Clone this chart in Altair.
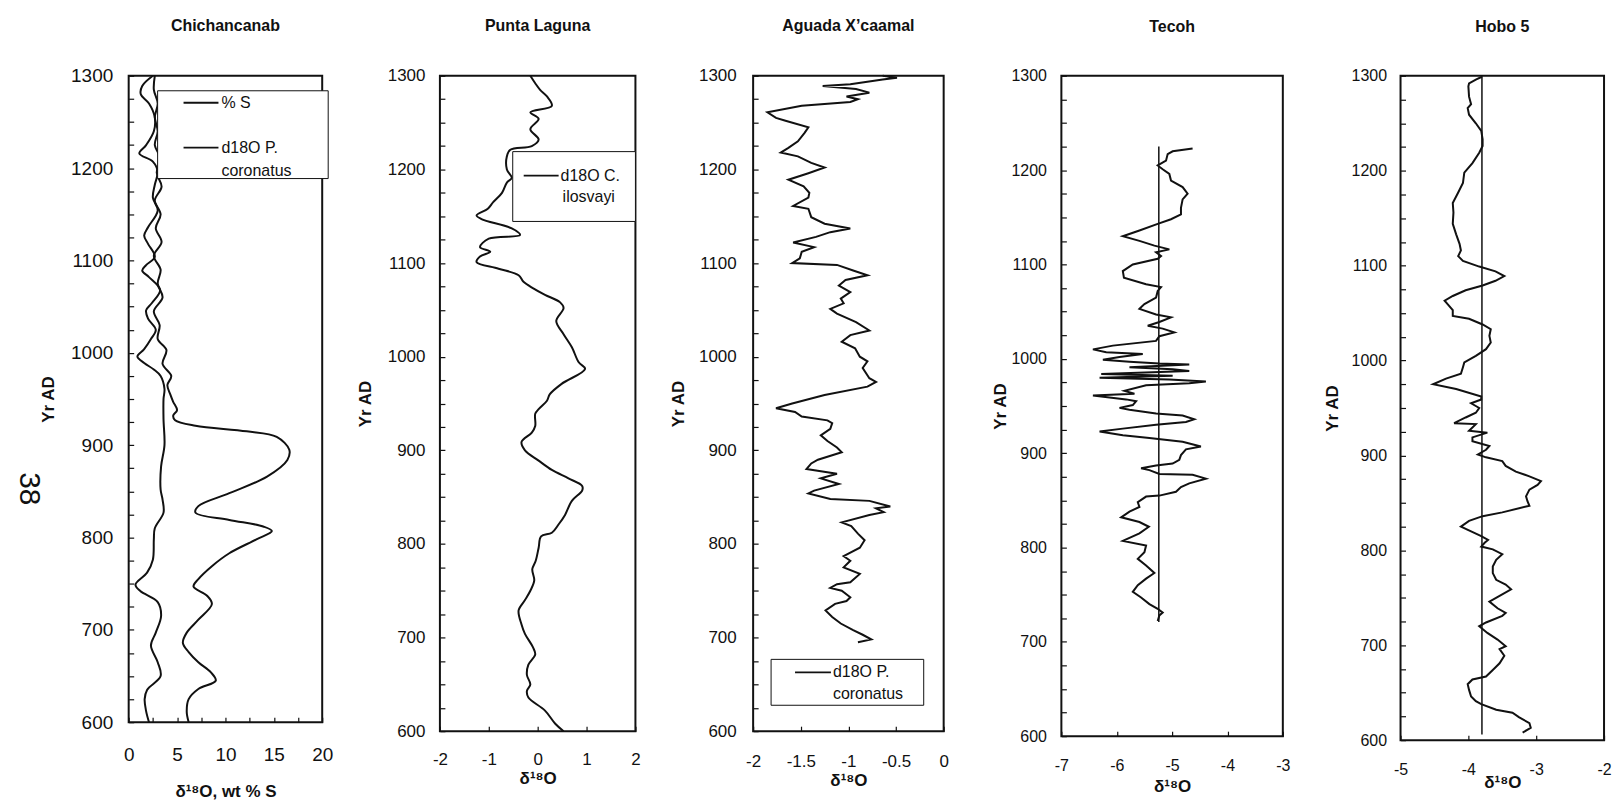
import altair as alt
import pandas as pd

FONT = "Liberation Sans"
INK = "#111111"

# ---------------- data ----------------
titles = ["Chichancanab", "Punta Laguna", "Aguada X\u2019caamal", "Tecoh", "Hobo 5"]
x_titles = ["\u03b4\u00b9\u2078O, wt % S", "\u03b4\u00b9\u2078O", "\u03b4\u00b9\u2078O", "\u03b4\u00b9\u2078O", "\u03b4\u00b9\u2078O"]
y_title = "Yr AD"
x_domains = [[0, 20], [-2, 2], [-2, 0], [-7, -3], [-5, -2]]
x_tick_values = [
    [0, 2.5, 5, 7.5, 10, 12.5, 15, 17.5, 20],
    [-2, -1, 0, 1, 2],
    [-2, -1.5, -1, -0.5, 0],
    [-7, -6, -5, -4, -3],
    [-5, -4, -3, -2],
]
year_ticks = list(range(600, 1301, 25))

# Chichancanab: d18O P. coronatus
chi_o_years = [600, 612, 625, 635, 650, 665, 683, 697, 715, 730, 742, 749, 762, 776, 798, 810, 827, 841,
               852, 877, 900, 928, 950, 961, 975, 982, 989, 996, 1004, 1015, 1025, 1037, 1046, 1054,
               1068, 1082, 1089, 1095, 1104, 1118, 1127, 1136, 1154, 1168, 1182, 1196, 1207, 1216,
               1225, 1240, 1255, 1270, 1280, 1289, 1300]
chi_o_vals = [2.1, 1.8, 1.65, 1.9, 3.3, 3.0, 2.3, 2.8, 3.35, 3.0, 1.2, 0.7, 1.9, 2.5, 2.6, 2.7, 3.6, 3.5,
              3.3, 3.35, 3.7, 3.6, 3.6, 3.7, 3.3, 2.6, 1.6, 0.9, 1.6, 2.3, 2.8, 2.0, 1.8, 2.4,
              3.25, 2.1, 1.4, 1.8, 2.7, 2.0, 1.6, 2.0, 3.0, 2.5, 2.7, 3.0, 2.5, 1.1,
              1.8, 2.6, 2.7, 2.1, 1.25, 1.4, 2.5]
# Chichancanab: % S
chi_s_years = [600, 611, 625, 636, 645, 654, 665, 676, 686, 697, 711, 728, 737, 747, 755, 769, 783, 798,
               807, 812, 819, 827, 834, 848, 866, 884, 895, 909, 915, 921, 927, 932, 938, 947, 955,
               965, 975, 988, 1003, 1015, 1030, 1045, 1060, 1075, 1090, 1105, 1120, 1135, 1150,
               1165, 1180, 1195, 1210, 1225, 1240, 1255, 1270, 1285, 1300]
chi_s_vals = [6.2, 6.0, 6.2, 7.2, 9.0, 8.5, 7.2, 6.2, 5.6, 6.0, 7.2, 8.6, 8.1, 6.7, 7.2, 8.6, 10.4, 13.2,
              14.8, 13.9, 10.4, 6.9, 7.2, 10.4, 14.3, 16.4, 16.6, 15.3, 12.2, 6.9, 4.8, 4.6, 5.0, 4.6, 4.3,
              4.0, 4.4, 3.5, 3.9, 3.0, 3.2, 2.6, 3.5, 3.0, 3.3, 2.6, 3.4, 2.8, 3.3,
              2.7, 3.4, 2.9, 3.3, 2.7, 3.0, 2.7, 3.0, 2.6, 2.7]

# Punta Laguna: d18O C. ilosvayi
pl_years = [600, 608, 622, 636, 643, 650, 660, 671, 682, 690, 704, 714, 729, 740, 750, 761, 773, 782,
            796, 808, 812, 821, 831, 846, 857, 862, 870, 879, 889, 900, 909, 919, 926, 939, 944, 953,
            960, 971, 987, 994, 1010, 1024, 1038, 1052, 1058, 1066, 1073, 1080, 1087, 1094, 1101,
            1107, 1112, 1117, 1126, 1130, 1137, 1147, 1151, 1158, 1165, 1175, 1186, 1191, 1200,
            1214, 1221, 1225, 1232, 1243, 1254, 1261, 1268, 1278, 1285, 1292, 1300]
pl_vals = [0.53, 0.36, 0.15, -0.19, -0.22, -0.15, -0.22, -0.19, -0.05, -0.10, -0.26, -0.33, -0.39, -0.26,
           -0.15, -0.07, -0.11, -0.04, 0.02, 0.07, 0.29, 0.43, 0.56, 0.70, 0.91, 0.91, 0.63, 0.29, 0.02,
           -0.26, -0.33, -0.12, -0.05, -0.05, 0.02, 0.19, 0.25, 0.49, 0.97, 0.84, 0.70, 0.53, 0.38,
           0.53, 0.46, 0.15, -0.09, -0.29, -0.39, -0.80, -1.25, -1.18, -0.97, -1.18, -1.0, -0.36,
           -0.53, -1.15, -1.25, -1.02, -0.91, -0.73, -0.63, -0.53, -0.63, -0.63, -0.56, -0.12, 0.02,
           -0.15, 0.02, -0.15, 0.29, 0.19, 0.05, -0.05, -0.15]

# Aguada X'caamal: d18O P. coronatus
ag_years = [695, 698, 703, 708, 715, 722, 729, 736, 739, 743, 750, 753, 757, 759, 768, 775, 782, 787,
            796, 804, 811, 819, 823, 831, 834, 838, 840, 846, 848, 854, 857, 864, 870, 875, 880, 886,
            890, 898, 903, 910, 916, 923, 929, 932, 936, 941, 945, 950, 959, 968, 973, 977, 988, 995,
            1000, 1009, 1016, 1023, 1028, 1037, 1046, 1051, 1057, 1062, 1069, 1076, 1082, 1087,
            1092, 1098, 1100, 1105, 1112, 1117, 1122, 1128, 1133, 1137, 1142, 1149, 1158, 1161,
            1170, 1175, 1182, 1189, 1196, 1202, 1207, 1214, 1218, 1223, 1230, 1239, 1245, 1252,
            1255, 1261, 1268, 1272, 1275, 1278, 1282, 1286, 1289, 1291, 1296, 1298, 1300]
ag_vals = [-0.90, -0.76, -0.85, -0.95, -1.08, -1.17, -1.24, -1.14, -1.02, -0.98, -1.07, -1.19, -1.12,
           -0.98, -0.88, -1.05, -0.98, -1.05, -0.88, -0.83, -0.90, -0.97, -1.07, -0.78, -0.63, -0.71,
           -0.56, -0.78, -1.19, -1.42, -1.36, -1.10, -1.29, -1.12, -1.44, -1.39, -1.32, -1.07, -1.12,
           -1.22, -1.29, -1.19, -1.17, -1.22, -1.49, -1.56, -1.76, -1.59, -1.25, -0.80, -0.71, -0.78,
           -0.85, -0.80, -0.88, -0.93, -1.07, -0.98, -0.78, -0.92, -1.12, -1.19, -1.05, -1.08, -0.98,
           -1.10, -1.03, -0.80, -0.95, -1.12, -1.59, -1.51, -1.49, -1.36, -1.58, -1.34, -1.19, -0.98,
           -1.25, -1.39, -1.42, -1.58, -1.42, -1.41, -1.47, -1.63, -1.42, -1.25, -1.39, -1.53, -1.71,
           -1.63, -1.53, -1.46, -1.42, -1.66, -1.76, -1.85, -1.49, -0.98, -0.90, -1.02, -0.78, -0.92,
           -1.27, -0.98, -0.64, -0.49, -0.64]

# Tecoh
te_years = [722, 728, 731, 735, 740, 747, 753, 760, 767, 773, 781, 788, 795, 802, 807, 815, 822, 827,
            832, 838, 843, 848, 854, 855, 859, 864, 868, 873, 877, 878, 882, 884, 887, 889, 893, 898,
            904, 907, 912, 916, 919, 923, 926, 930, 933, 936, 940, 942, 946, 948, 951, 955, 957, 961,
            963, 966, 972, 974, 976, 978, 980, 982, 984, 987, 989, 991, 994, 995, 997, 999, 1002,
            1005, 1007, 1010, 1014, 1019, 1024, 1028, 1032, 1035, 1039, 1044, 1047, 1053, 1058,
            1065, 1072, 1076, 1079, 1086, 1093, 1100, 1106, 1109, 1113, 1116, 1120, 1125, 1130,
            1136, 1143, 1148, 1153, 1160, 1169, 1175, 1182, 1189, 1196, 1201, 1205, 1210, 1217,
            1220, 1223]
te_vals = [-5.26, -5.23, -5.17, -5.26, -5.41, -5.56, -5.71, -5.62, -5.47, -5.32, -5.47, -5.62, -5.50,
           -5.47, -5.89, -5.59, -5.42, -5.59, -5.92, -5.77, -5.59, -5.62, -5.47, -5.23, -4.93, -4.84,
           -4.69, -4.39, -4.63, -5.23, -5.41, -5.56, -5.29, -4.99, -4.87, -4.84, -4.75, -4.48, -4.81,
           -5.41, -5.89, -6.31, -5.89, -5.29, -4.75, -4.60, -4.81, -5.29, -5.77, -5.95, -5.71, -5.65,
           -5.83, -6.43, -5.68, -5.86, -5.47, -4.69, -4.39, -5.05, -6.31, -4.99, -6.28, -4.69, -4.99,
           -5.77, -4.69, -5.23, -5.77, -6.25, -5.95, -5.53, -6.19, -6.43, -6.07, -5.29, -5.23, -4.96,
           -5.17, -5.44, -5.23, -5.02, -5.29, -5.59, -5.50, -5.29, -5.26, -5.20, -5.47, -5.87, -5.89,
           -5.71, -5.26, -5.20, -5.29, -5.05, -5.32, -5.59, -5.89, -5.59, -5.26, -5.02, -4.84, -4.84,
           -4.81, -4.72, -4.81, -5.02, -5.05, -5.17, -5.26, -5.11, -5.08, -4.99, -4.63]
te_mean_years = [721, 1225]
te_mean_vals = [-5.24, -5.24]

# Hobo 5
hb_years = [608, 613, 618, 624, 629, 632, 638, 641, 646, 653, 659, 664, 667, 674, 681, 689, 696, 699,
            706, 713, 720, 724, 731, 734, 739, 746, 752, 759, 764, 769, 776, 783, 790, 796, 801, 804,
            808, 811, 815, 820, 825, 831, 836, 840, 847, 852, 857, 864, 869, 873, 878, 883, 889, 894,
            898, 901, 906, 910, 915, 919, 924, 926, 933, 934, 940, 945, 950, 955, 959, 962, 970, 975,
            981, 986, 993, 998, 1005, 1012, 1019, 1026, 1033, 1038, 1044, 1047, 1053, 1059, 1063,
            1068, 1074, 1079, 1084, 1089, 1094, 1099, 1105, 1110, 1116, 1123, 1133, 1144, 1156,
            1166, 1177, 1187, 1198, 1208, 1219, 1226, 1233, 1242, 1250, 1259, 1266, 1270, 1278,
            1289, 1292, 1296, 1299]
hb_vals = [-3.20, -3.08, -3.10, -3.25, -3.35, -3.59, -3.81, -3.89, -3.96, -3.99, -4.01, -3.94, -3.74,
           -3.64, -3.54, -3.47, -3.54, -3.45, -3.57, -3.72, -3.84, -3.74, -3.50, -3.45, -3.57, -3.69,
           -3.54, -3.37, -3.45, -3.59, -3.64, -3.64, -3.59, -3.50, -3.64, -3.81, -3.76, -3.71, -3.81,
           -3.96, -4.11, -3.99, -3.79, -3.50, -3.10, -3.13, -3.15, -3.10, -2.98, -2.93, -3.10, -3.30,
           -3.45, -3.50, -3.74, -3.86, -3.74, -3.69, -3.94, -3.94, -3.72, -3.99, -3.89, -4.21, -4.04,
           -3.89, -3.84, -3.96, -3.81, -3.81, -4.18, -4.52, -4.33, -4.11, -4.08, -4.06, -3.89, -3.74,
           -3.67, -3.69, -3.67, -3.79, -3.99, -4.23, -4.23, -4.30, -4.35, -4.23, -4.04, -3.79, -3.60,
           -3.47, -3.60, -3.84, -4.08, -4.15, -4.11, -4.13, -4.18, -4.23, -4.22, -4.23, -4.15, -4.08,
           -4.06, -3.94, -3.84, -3.79, -3.79, -3.81, -3.89, -3.99, -4.01, -3.96, -3.99, -4.00, -3.99,
           -3.89, -3.80]
hb_mean_years = [606, 1300]
hb_mean_vals = [-3.80, -3.80]

# ---------------- layout (style only) ----------------
widths = [194, 196, 191, 222, 204]
heights = [648, 657, 657, 662, 666]
label_sizes = [19, 17, 17, 16, 16]
y_label_pad = [16, 15, 17, 15, 14]
y_title_pad = [13, 13, 11, 1, 10]
x_label_pad = [23, 20, 22, 21, 21]
x_title_pad = [19, 3, 3, 5, -3]
ONE = pd.DataFrame({"k": [0]})


def frame(years, vals):
    return pd.DataFrame({"year": years, "v": vals})


def panel(i, series, extras):
    xs = alt.Scale(domain=x_domains[i], nice=False, zero=False)
    ys = alt.Scale(domain=[600, 1300], nice=False, zero=False)
    if i == 0:
        xexpr = "datum.value % 5 == 0 ? '' + datum.value : ''"
    else:
        xexpr = "'' + datum.value"
    xa = alt.Axis(values=x_tick_values[i], labelExpr=xexpr, offset=-5, tickSize=5, tickWidth=1.2,
                  tickColor=INK, domain=False, grid=False, labelFont=FONT,
                  labelFontSize=label_sizes[i], labelColor=INK, labelPadding=x_label_pad[i],
                  labelFlush=False, labelOverlap=False,
                  title=x_titles[i], titleFont=FONT, titleFontSize=17, titleFontWeight="bold",
                  titleColor=INK, titlePadding=x_title_pad[i])
    ya = alt.Axis(values=year_ticks, labelExpr="datum.value % 100 == 0 ? '' + datum.value : ''",
                  offset=-5, tickSize=5, tickWidth=1.2, tickColor=INK, domain=False, grid=False,
                  labelFont=FONT, labelFontSize=label_sizes[i], labelColor=INK,
                  labelPadding=y_label_pad[i], labelFlush=False, labelOverlap=False,
                  title=y_title, titleFont=FONT, titleFontSize=17, titleFontWeight="bold",
                  titleColor=INK, titlePadding=y_title_pad[i])
    layers = []
    for df, interp, sw in series:
        layers.append(
            alt.Chart(df).mark_line(color=INK, strokeWidth=sw, interpolate=interp).encode(
                x=alt.X("v:Q", scale=xs, axis=xa),
                y=alt.Y("year:Q", scale=ys, axis=ya),
                order=alt.Order("year:Q"),
            )
        )
    layers.extend(extras)
    return alt.layer(*layers).properties(
        width=widths[i], height=heights[i],
        title=alt.TitleParams(titles[i], font=FONT, fontSize=16, fontWeight="bold", color=INK,
                              anchor="middle", frame="group", offset=33),
    )


def box(x1, x2, y1, y2):
    return alt.Chart(ONE).mark_rect(fill="white", stroke=INK, strokeWidth=1).encode(
        x=alt.value(x1), x2=alt.value(x2), y=alt.value(y1), y2=alt.value(y2))


def sample(x1, x2, y):
    return alt.Chart(ONE).mark_rule(color=INK, strokeWidth=1.8).encode(
        x=alt.value(x1), x2=alt.value(x2), y=alt.value(y))


def label(x, y, text, size=16):
    return alt.Chart(ONE).mark_text(align="left", baseline="middle", font=FONT, fontSize=size,
                                    color=INK).encode(x=alt.value(x), y=alt.value(y),
                                                      text=alt.value(text))


page_no = alt.Chart(ONE).mark_text(align="center", baseline="middle", font=FONT, fontSize=30,
                                   angle=90, color=INK).encode(
    x=alt.value(-100), y=alt.value(414), text=alt.value("38"))

LW = 2.0
p1 = panel(0, [(frame(chi_o_years, chi_o_vals), "catmull-rom", LW),
               (frame(chi_s_years, chi_s_vals), "catmull-rom", LW)],
           [box(29, 200, 15, 103), sample(55, 90, 27), label(93, 27, "% S"),
            sample(55, 90, 72), label(93, 72, "d18O P."), label(93, 95, "coronatus"), page_no])
p2 = panel(1, [(frame(pl_years, pl_vals), "catmull-rom", LW)],
           [box(73, 196, 76, 146), sample(84, 119, 100), label(121, 100, "d18O C."),
            label(123, 122, "ilosvayi")])
p3 = panel(2, [(frame(ag_years, ag_vals), "linear", LW)],
           [box(18, 171, 585, 631), sample(42, 78, 598), label(80, 598, "d18O P."),
            label(80, 620, "coronatus")])
p4 = panel(3, [(frame(te_mean_years, te_mean_vals), "linear", 1.5),
               (frame(te_years, te_vals), "linear", LW)], [])
p5 = panel(4, [(frame(hb_mean_years, hb_mean_vals), "linear", 1.5),
               (frame(hb_years, hb_vals), "linear", LW)], [])

chart = alt.hconcat(p1, p2, p3, p4, p5, spacing=118, bounds="flush").properties(
    padding={"left": 13, "top": 16, "right": 5, "bottom": 5},
    background="white",
).configure_view(stroke=INK, strokeWidth=2)

chart.save("out.html", embed_options={"renderer": "svg", "actions": False})
